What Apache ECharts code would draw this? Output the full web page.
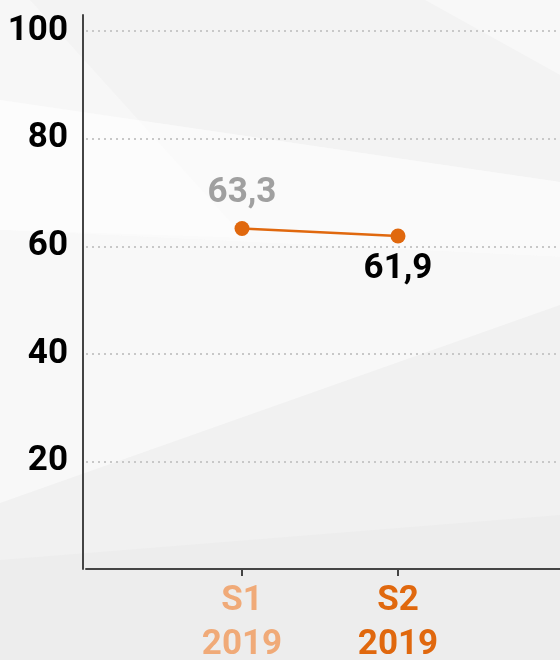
<!DOCTYPE html>
<html>
<head>
<meta charset="utf-8">
<script src="https://cdn.jsdelivr.net/npm/echarts@6/dist/echarts.min.js"></script>
<style>
  html, body { margin: 0; padding: 0; background: #f6f6f6; }
  #chart { width: 560px; height: 660px; }
</style>
</head>
<body>
<div id="chart"></div>
<script>
// Data
const categories = ['', 'S1\n2019', 'S2\n2019', '', ''];
const values = [null, 63.3, 61.9, null, null];
const gridValues = [20, 40, 60, 80, 100];

const FONT = 'Roboto, sans-serif';
const ORANGE = '#e0680e';

const chart = echarts.init(document.getElementById('chart'));

// faint background facets
function facet(points, fill) {
    return { type: 'polygon', silent: true, z: -10, shape: { points: points }, style: { fill: fill } };
}

const option = {
    backgroundColor: '#f7f7f7',
    animation: false,
    graphic: [
        facet([[0, 0], [560, 0], [560, 182], [0, 100]], '#f3f3f3'),
        facet([[0, 100], [560, 182], [560, 257], [0, 230]], '#fafafa'),
        facet([[0, 230], [560, 257], [560, 305], [0, 503]], '#f8f8f8'),
        facet([[0, 503], [560, 305], [560, 660], [0, 660]], '#f1f1f1'),
        facet([[0, 560], [560, 515], [560, 660], [0, 660]], '#ededed'),
        facet([[0, 0], [30, 0], [245, 238], [0, 230]], 'rgba(255,255,255,0.35)'),
        facet([[425, 0], [560, 0], [560, 75]], 'rgba(255,255,255,0.4)')
    ],
    grid: { left: 86, right: -150, top: 15, bottom: 91, outerBoundsMode: 'none', containLabel: false },
    xAxis: {
        type: 'category',
        data: categories,
        boundaryGap: false,
        axisLine: { lineStyle: { color: '#444', width: 2 } },
        axisTick: {
            length: 7,
            lineStyle: { color: '#444', width: 2 },
            interval: (i) => i === 1 || i === 2
        },
        axisLabel: {
            margin: 10,
            fontFamily: FONT,
            fontWeight: 'bold',
            fontSize: 35,
            lineHeight: 44,
            interval: 0,
            color: (v, i) => i === 1 ? '#f0aa78' : ORANGE
        },
        splitLine: { show: false }
    },
    yAxis: {
        type: 'value',
        min: 0,
        max: 103,
        interval: 20,
        offset: 3,
        axisLine: { show: true, lineStyle: { color: '#444', width: 2 } },
        axisTick: { show: false },
        splitLine: { show: false },
        axisLabel: {
            margin: 15,
            fontFamily: FONT,
            fontWeight: 'bold',
            fontSize: 35,
            color: '#000',
            formatter: (v) => (v > 0 && v % 20 === 0) ? String(v) : ''
        }
    },
    series: [{
        type: 'line',
        data: values,
        symbol: 'circle',
        symbolSize: 15,
        itemStyle: { color: ORANGE },
        lineStyle: { color: ORANGE, width: 2.5 },
        label: {
            show: true,
            fontFamily: FONT,
            fontWeight: 'bold',
            fontSize: 35,
            formatter: (p) => String(p.value).replace('.', ',')
        },
        markLine: {
            silent: true,
            symbol: 'none',
            label: { show: false },
            lineStyle: { color: '#c8c8c8', type: [2, 4], width: 2 },
            data: gridValues.map(v => ({ yAxis: v }))
        }
    }]
};

// per-point label placement
option.series[0].data = values.map((v, i) => {
    if (i === 1) return { value: v, label: { position: 'top', distance: 10, color: '#a0a0a0' } };
    if (i === 2) return { value: v, label: { position: 'bottom', distance: 8, color: '#000' } };
    return v;
});

chart.setOption(option);
</script>
</body>
</html>
